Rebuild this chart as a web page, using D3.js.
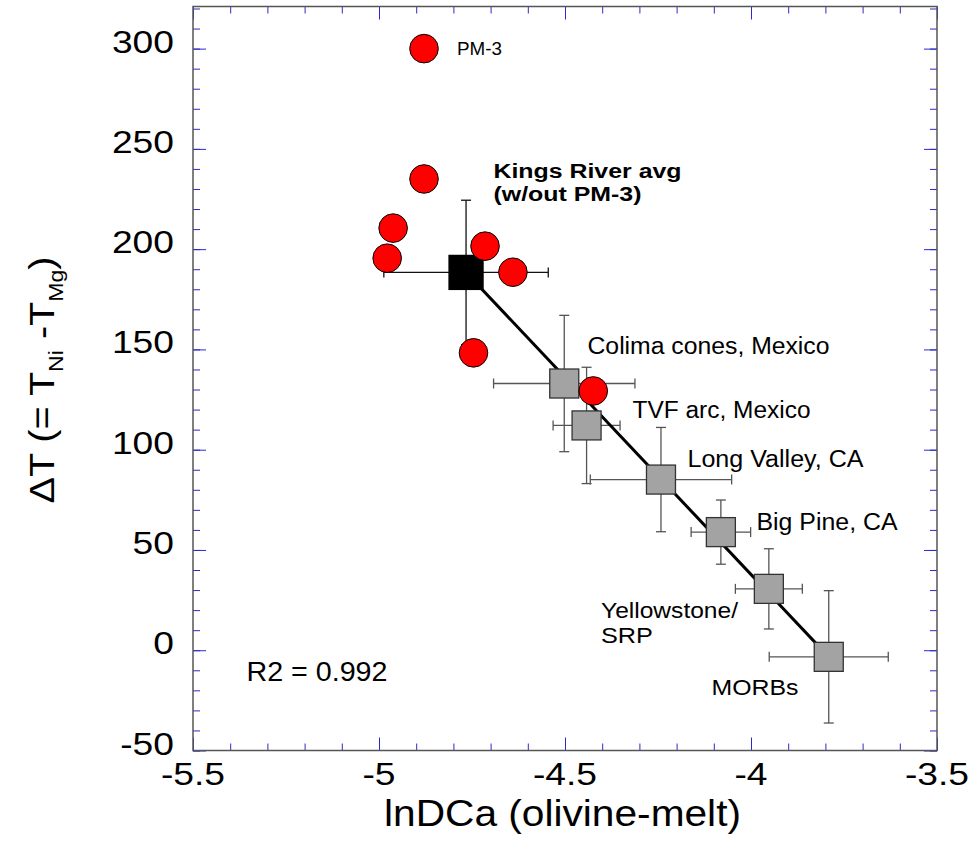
<!DOCTYPE html>
<html><head><meta charset="utf-8">
<script src="https://cdn.jsdelivr.net/npm/d3@7"></script>
<style>html,body{margin:0;padding:0;background:#fff;} svg{display:block;}</style>
</head><body><svg id="c" width="971" height="841"></svg>
<script>
// ---------- data ----------
const xTickValues = [-5.5, -5, -4.5, -4, -3.5];
const xTickLabels = ["-5.5", "-5", "-4.5", "-4", "-3.5"];
const yTickValues = [-50, 0, 50, 100, 150, 200, 250, 300];
const yTickLabels = ["-50", "0", "50", "100", "150", "200", "250", "300"];

// Kings River samples (red circles)
const sampleNames = ["PM-3", "", "", "", "", "", "", ""];
const sampleX = [-4.879, -4.879, -4.962, -4.978, -4.715, -4.640, -4.746, -4.424];
const sampleY = [300.0, 235.0, 210.5, 195.5, 201.5, 188.5, 148.3, 129.3];

// group averages (squares)
const groupNames = ["Kings River avg", "Colima cones, Mexico", "TVF arc, Mexico", "Long Valley, CA", "Big Pine, CA", "Yellowstone/SRP", "MORBs"];
const groupX = [-4.766, -4.502, -4.442, -4.242, -4.081, -3.952, -3.791];
const groupY = [188.4, 133.0, 112.1, 85.1, 58.9, 30.6, -3.3];
const groupXErr = [0.221, 0.19, 0.09, 0.19, 0.08, 0.09, 0.16];
const groupYErr = [36, 34, 29, 26, 16, 20, 33];

// regression line end points
const fitX = [-4.766, -3.791];
const fitY = [188.4, -3.3];
const r2Label = "R2 = 0.992";

// ---------- layout ----------
const FONT = "'Liberation Sans', Arial, Helvetica, sans-serif";
const svg = d3.select("#c");
const L = 193, R = 937, T = 6.5, B = 750.5;
const x = d3.scaleLinear().domain([-5.5, -3.5]).range([L, R]);
const y = d3.scaleLinear().domain([-50, 321]).range([B, T]);

// ticks
const minorX = d3.range(0, 21).map(i => -5.5 + i * 0.1);
const minorY = d3.range(0, 38).map(i => -50 + i * 10);
const TICK = "#2a2ad0";
function styleAxis(g) {
  g.select(".domain").remove();
  g.selectAll(".tick line").attr("stroke", TICK).attr("stroke-width", 1);
  g.selectAll(".tick text").remove();
}
[[d3.axisBottom(x), `translate(0,${B})`, minorX, xTickValues],
 [d3.axisTop(x), `translate(0,${T})`, minorX, xTickValues],
 [d3.axisLeft(y), `translate(${L},0)`, minorY, yTickValues],
 [d3.axisRight(y), `translate(${R},0)`, minorY, yTickValues]].forEach(([ax, tr, mn, mj]) => {
  svg.append("g").attr("transform", tr).call(ax.tickValues(mn).tickSize(-7).tickFormat("")).call(styleAxis);
  svg.append("g").attr("transform", tr).call(ax.tickValues(mj).tickSize(-13).tickFormat("")).call(styleAxis);
});

// frame
svg.append("rect").attr("x", L).attr("y", T).attr("width", R - L).attr("height", B - T)
  .attr("fill", "none").attr("stroke", "#555").attr("stroke-width", 1.5);

// tick labels
const SX = 1.2;
yTickValues.forEach((v, i) => {
  svg.append("text").attr("transform", `translate(174,${y(v) + 4}) scale(${SX},1)`)
    .attr("text-anchor", "end").attr("font-family", FONT).attr("font-size", 31).attr("fill", "#000")
    .text(yTickLabels[i]);
});
xTickValues.forEach((v, i) => {
  svg.append("text").attr("transform", `translate(${x(v)},785) scale(${SX},1)`)
    .attr("text-anchor", "middle").attr("font-family", FONT).attr("font-size", 31).attr("fill", "#000")
    .text(xTickLabels[i]);
});

// axis titles
svg.append("text").attr("x", 562.5).attr("y", 826).attr("text-anchor", "middle")
  .attr("font-family", FONT).attr("font-size", 36).attr("textLength", 357).attr("lengthAdjust", "spacingAndGlyphs")
  .text("lnDCa (olivine-melt)");
const yt = svg.append("text").attr("transform", `translate(54,380) rotate(-90) scale(1.1,1)`)
  .attr("text-anchor", "middle").attr("font-family", FONT).attr("font-size", 36);
yt.append("tspan").text("\u0394T (= T");
yt.append("tspan").attr("font-size", 21).attr("dy", 9).text("Ni");
yt.append("tspan").attr("dy", -9).text(" -T");
yt.append("tspan").attr("font-size", 21).attr("dy", 9).text("Mg");
yt.append("tspan").attr("dy", -9).text(")");

// error bars
const CAP = 5;
const eb = svg.append("g");
groupX.forEach((gx, i) => {
  const col = i === 0 ? "#111" : "#555";
  const cx = x(gx), cy = y(groupY[i]);
  const x0 = x(gx - groupXErr[i]), x1 = x(gx + groupXErr[i]);
  const y0 = y(groupY[i] + groupYErr[i]), y1 = y(groupY[i] - groupYErr[i]);
  const segs = [[x0, cy, x1, cy], [x0, cy - CAP, x0, cy + CAP], [x1, cy - CAP, x1, cy + CAP],
                [cx, y0, cx, y1], [cx - CAP, y0, cx + CAP, y0], [cx - CAP, y1, cx + CAP, y1]];
  segs.forEach(s => eb.append("line").attr("x1", s[0]).attr("y1", s[1]).attr("x2", s[2]).attr("y2", s[3])
    .attr("stroke", col).attr("stroke-width", 1.3));
});

// regression line
svg.append("path").datum(fitX.map((v, i) => [v, fitY[i]]))
  .attr("d", d3.line().x(d => x(d[0])).y(d => y(d[1])))
  .attr("stroke", "#000").attr("stroke-width", 3).attr("fill", "none");

// squares
groupX.forEach((gx, i) => {
  const s = i === 0 ? 34 : 29;
  svg.append("rect").attr("x", x(gx) - s / 2).attr("y", y(groupY[i]) - s / 2).attr("width", s).attr("height", s)
    .attr("fill", i === 0 ? "#000" : "#a3a3a3").attr("stroke", i === 0 ? "#000" : "#333").attr("stroke-width", 1.3);
});

// red circles
svg.append("g").selectAll("circle").data(sampleX).join("circle")
  .attr("cx", d => x(d)).attr("cy", (d, i) => y(sampleY[i])).attr("r", 14.3)
  .attr("fill", "#ff0000").attr("stroke", "#000").attr("stroke-width", 1);

// annotations
function label(txt, px, py, size, width, bold) {
  svg.append("text").attr("x", px).attr("y", py).attr("font-family", FONT).attr("font-size", size)
    .attr("font-weight", bold ? "bold" : "normal").attr("textLength", width).attr("lengthAdjust", "spacingAndGlyphs")
    .attr("fill", "#000").text(txt);
}
label(sampleNames[0], 457, 55, 18, 45);
label("Kings River avg", 493.5, 177.5, 20, 188, true);
label("(w/out PM-3)", 493.5, 200.5, 20, 148, true);
label(groupNames[1], 587.5, 354, 23, 242);
label(groupNames[2], 632.5, 418.3, 23, 178);
label(groupNames[3], 687.5, 467.3, 23, 176);
label(groupNames[4], 756.5, 530, 23, 141);
label("Yellowstone/", 601, 618.3, 22, 137);
label("SRP", 601, 643.3, 22, 52);
label(groupNames[6], 711.5, 695, 22, 87);
label(r2Label, 246.5, 680.7, 27, 141);
</script></body></html>
